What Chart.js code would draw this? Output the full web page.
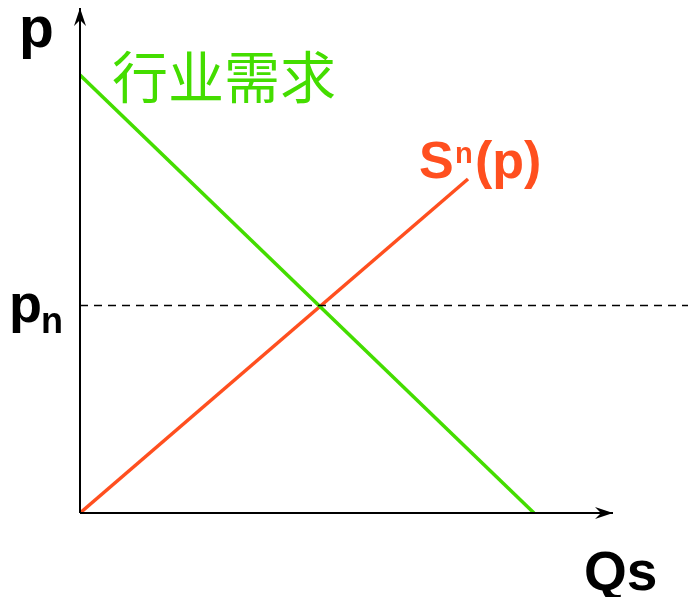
<!DOCTYPE html>
<html>
<head>
<meta charset="utf-8">
<script src="https://cdn.jsdelivr.net/npm/chart.js@4"></script>
<style>
  html, body { margin: 0; padding: 0; background: #fff; }
  #chart { display: block; }
</style>
</head>
<body>
<canvas id="chart" width="688" height="597"></canvas>
<script>
// market diagram: industry demand vs short-run supply
const demandQ = [0, 9.08];
const demandP = [8.76, 0];
const supplyQ = [0, 7.76];
const supplyP = [0, 6.68];
const priceN = 4.15;
const xMax = 12.16;
const yMax = 10.26;
const xAxisEnd = 10.66;
const yAxisEnd = 10.1;

const green = '#44dd00';
const red = '#ff4f1f';

function pts(xs, ys) {
  return xs.map((x, i) => ({ x: x, y: ys[i] }));
}

const axesAndLabels = {
  id: 'axesAndLabels',
  afterDraw(chart) {
    const ctx = chart.ctx;
    const xs = chart.scales.x;
    const ys = chart.scales.y;
    const x0 = xs.getPixelForValue(0);
    const y0 = ys.getPixelForValue(0);
    const xe = xs.getPixelForValue(xAxisEnd);
    const ye = ys.getPixelForValue(yAxisEnd);

    ctx.save();
    ctx.strokeStyle = '#000';
    ctx.lineWidth = 2;
    ctx.beginPath();
    ctx.moveTo(x0, y0);
    ctx.lineTo(xe, y0);
    ctx.moveTo(x0, y0);
    ctx.lineTo(x0, ye);
    ctx.stroke();

    // arrow heads
    ctx.fillStyle = '#000';
    ctx.beginPath();
    ctx.moveTo(xe, y0);
    ctx.lineTo(xe - 18, y0 - 6);
    ctx.lineTo(xe - 12, y0);
    ctx.lineTo(xe - 18, y0 + 6);
    ctx.closePath();
    ctx.fill();
    ctx.beginPath();
    ctx.moveTo(x0, ye);
    ctx.lineTo(x0 - 6, ye + 18);
    ctx.lineTo(x0, ye + 12);
    ctx.lineTo(x0 + 6, ye + 18);
    ctx.closePath();
    ctx.fill();

    // labels
    ctx.textBaseline = 'alphabetic';
    ctx.textAlign = 'left';
    ctx.fillStyle = '#000';
    ctx.font = 'bold 57px "Liberation Sans", Arial, sans-serif';
    ctx.fillText('p', 19, 47);
    ctx.font = 'bold 55px "Liberation Sans", Arial, sans-serif';
    ctx.fillText('Qs', 584, 590);
    ctx.font = 'bold 54px "Liberation Sans", Arial, sans-serif';
    ctx.fillText('p', 9, 322);
    ctx.font = 'bold 36px "Liberation Sans", Arial, sans-serif';
    ctx.fillText('n', 41, 333);

    ctx.fillStyle = green;
    ctx.font = '56px "Noto Sans CJK SC", sans-serif';
    ctx.fillText('行业需求', 112, 98);

    ctx.fillStyle = red;
    ctx.font = 'bold 52px "Liberation Sans", Arial, sans-serif';
    ctx.fillText('S', 419, 178);
    ctx.fillText('(p)', 475, 178);
    ctx.font = 'bold 29px "Liberation Sans", Arial, sans-serif';
    ctx.fillText('n', 455, 163);
    ctx.restore();
  }
};

new Chart(document.getElementById('chart').getContext('2d'), {
  type: 'scatter',
  data: {
    datasets: [
      {
        label: 'pn',
        data: pts([0, xMax], [priceN, priceN]),
        showLine: true,
        borderColor: '#000',
        borderWidth: 1.5,
        borderDash: [8, 6],
        pointRadius: 0
      },
      {
        label: '行业需求',
        data: pts(demandQ, demandP),
        showLine: true,
        borderColor: green,
        borderWidth: 3.5,
        pointRadius: 0
      },
      {
        label: 'Sn(p)',
        data: pts(supplyQ, supplyP),
        showLine: true,
        borderColor: red,
        borderWidth: 3.5,
        pointRadius: 0
      }
    ]
  },
  options: {
    responsive: false,
    animation: false,
    layout: { padding: { left: 80, top: 0, right: 0, bottom: 84 } },
    scales: {
      x: { type: 'linear', min: 0, max: xMax, display: false },
      y: { type: 'linear', min: 0, max: yMax, display: false }
    },
    plugins: {
      legend: { display: false },
      tooltip: { enabled: false }
    }
  },
  plugins: [axesAndLabels]
});
</script>
</body>
</html>
